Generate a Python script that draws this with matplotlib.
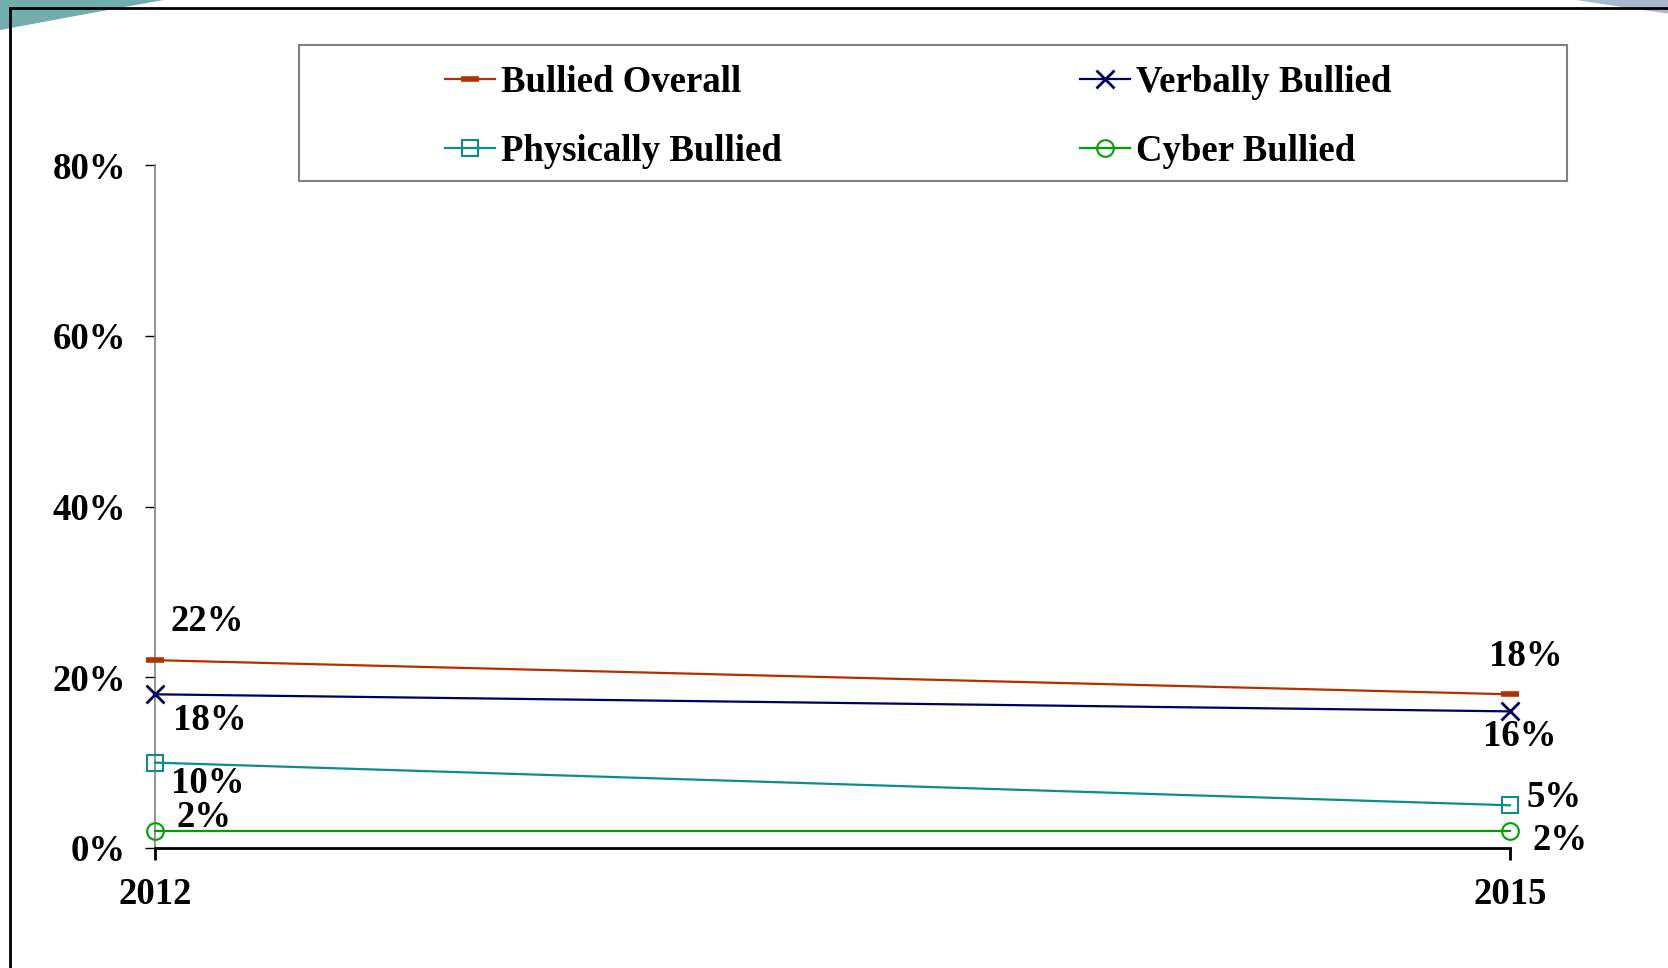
import matplotlib.pyplot as plt
from matplotlib.patches import Polygon, Rectangle
from matplotlib.lines import Line2D

# data
years = ['2012', '2015']
series_names = ['Bullied Overall', 'Verbally Bullied', 'Physically Bullied', 'Cyber Bullied']
bullied_overall = [22, 18]
verbally_bullied = [18, 16]
physically_bullied = [10, 5]
cyber_bullied = [2, 2]
y_ticks = [0, 20, 40, 60, 80]

series_values = [bullied_overall, verbally_bullied, physically_bullied, cyber_bullied]
colors = ['#B33000', '#00005E', '#0E8C8C', '#00A000']
markers = ['_', 'x', 's', 'o']
marker_sizes = [13, 13, 11, 12]
marker_widths = [4, 2, 1.5, 1.5]
# label offsets in pixels, (2012, 2015)
label_offsets = [
    [(52, 39), (16, 38)],
    [(55, -26), (10, -25)],
    [(53, -21), (44, 8)],
    [(49, 13), (50, -10)],
]

plt.rcParams['font.family'] = ['Liberation Serif', 'DejaVu Serif']
plt.rcParams['font.weight'] = 'bold'
fs = 26.5

fig = plt.figure(figsize=(16.68, 9.68), dpi=100)

# slide decorations
fig.patches.append(Polygon([(0, 1), (0.098, 1), (0.05, 0.985), (0, 0.969)], closed=True,
                           transform=fig.transFigure, facecolor='#72AEAE', edgecolor='none', zorder=0))
fig.patches.append(Polygon([(0.945, 1), (1, 1), (1, 0.986), (0.975, 0.992)], closed=True,
                           transform=fig.transFigure, facecolor='#A9B8CC', edgecolor='none', zorder=0))
fig.add_artist(Line2D([0.0057, 1.0], [0.9918, 0.9918], color='black', lw=2, transform=fig.transFigure))
fig.add_artist(Line2D([0.0057, 0.0057], [0.0, 0.9918], color='black', lw=2, transform=fig.transFigure))

ax = fig.add_axes([0.0929, 0.124, 0.8124, 0.7055])
x = list(range(len(years)))

handles = []
for name, vals, c, m, ms, mw, offs in zip(series_names, series_values, colors, markers,
                                          marker_sizes, marker_widths, label_offsets):
    ln, = ax.plot(x, vals, color=c, lw=1.6, marker=m, ms=ms, mew=mw,
                  mfc='none' if m in ('s', 'o') else c, mec=c, clip_on=False, zorder=3, label=name)
    handles.append(ln)
    for xi, v, off in zip(x, vals, offs):
        ax.annotate(f'{v}%', (xi, v), xytext=off, textcoords='offset pixels',
                    ha='center', va='center', fontsize=fs, fontweight='bold')

ax.set_xlim(0, 1)
ax.set_ylim(0, 80)
ax.set_xticks(x)
ax.set_xticklabels(years)
ax.set_yticks(y_ticks)
ax.set_yticklabels([f'{t}%' for t in y_ticks])

for s in ['top', 'right']:
    ax.spines[s].set_visible(False)
ax.spines['left'].set_color('#808080')
ax.spines['left'].set_linewidth(1.2)
ax.spines['bottom'].set_color('black')
ax.spines['bottom'].set_linewidth(2)
ax.tick_params(axis='y', direction='out', length=7.2, width=1, color='black',
               pad=13.5, labelsize=fs)
ax.tick_params(axis='x', direction='out', length=8.6, width=2, color='black',
               pad=12, labelsize=fs)
for lab in ax.get_xticklabels() + ax.get_yticklabels():
    lab.set_fontweight('bold')

# legend frame and entries
fig.patches.append(Rectangle((0.1793, 0.8130), 0.7602, 0.1405, transform=fig.transFigure,
                             facecolor='white', edgecolor='#808080', lw=1.5, zorder=1))
order = [0, 2, 1, 3]
leg = fig.legend([handles[i] for i in order], [series_names[i] for i in order],
                 loc='upper left', bbox_to_anchor=(0.2668, 0.933), ncol=2, frameon=False,
                 fontsize=fs, handlelength=1.36, handletextpad=0.16, columnspacing=8.1,
                 labelspacing=0.92, borderpad=0, borderaxespad=0)
for t in leg.get_texts():
    t.set_fontweight('bold')

fig.savefig('out.png', dpi=100)
